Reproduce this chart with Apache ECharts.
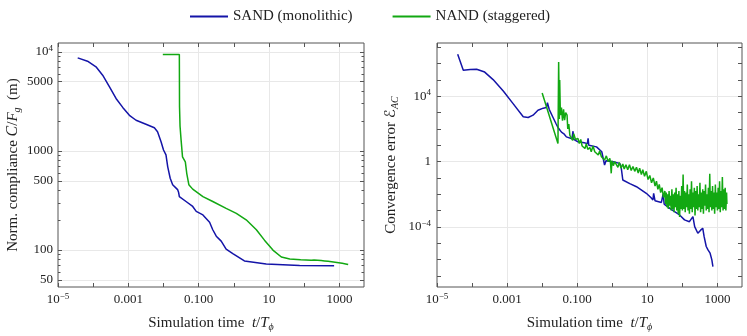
<!DOCTYPE html>
<html>
<head>
<meta charset="utf-8">
<script src="https://cdn.jsdelivr.net/npm/echarts@6/dist/echarts.min.js"></script>
<style>html,body{margin:0;padding:0;background:#fff}#c{width:747px;height:336px}</style>
</head>
<body>
<div id="c"></div>
<script>
// ---- Data (stored as log10 exponents, converted to values below) ----
// Left panel: normalised compliance C/Fg (m) vs simulation time t/Tphi
const sandComplianceLogT = [-4.44,-4.16,-3.92,-3.73,-3.54,-3.35,-3.16,-2.97,-2.78,-2.50,-2.26,-2.17,-2.07,-2.00,-1.93,-1.88,-1.81,-1.74,-1.60,-1.57,-1.55,-1.36,-1.17,-1.07,-0.88,-0.69,-0.60,-0.50,-0.36,-0.22,-0.03,0.30,0.92,1.87,2.85];
const sandComplianceLogC = [3.94,3.906,3.85,3.765,3.65,3.53,3.44,3.36,3.31,3.27,3.235,3.195,3.094,3.01,2.96,2.84,2.725,2.66,2.61,2.58,2.54,2.49,2.44,2.39,2.355,2.28,2.205,2.14,2.09,2.01,1.965,1.89,1.86,1.845,1.842];

const nandComplianceLogT = [-2.02,-1.55,-1.545,-1.53,-1.50,-1.46,-1.38,-1.34,-1.28,-1.17,-0.88,-0.60,-0.22,0.07,0.35,0.64,0.87,1.11,1.35,1.59,1.90,2.20,2.28,2.33,2.38,2.43,2.48,2.53,2.58,2.63,2.68,2.73,2.78,2.83,2.88,2.93,2.98,3.03,3.08,3.13,3.18,3.22,3.25];
const nandComplianceLogC = [3.974,3.974,3.45,3.25,3.11,2.94,2.89,2.775,2.66,2.615,2.54,2.49,2.42,2.37,2.305,2.205,2.10,2.0,1.93,1.91,1.903,1.898,1.900,1.892,1.897,1.888,1.894,1.884,1.890,1.880,1.886,1.876,1.882,1.872,1.877,1.866,1.872,1.860,1.866,1.853,1.860,1.848,1.855];

// Right panel: convergence error E_AC vs simulation time
const sandErrorLogT = [-4.41,-4.25,-4.05,-3.87,-3.64,-3.40,-3.11,-2.83,-2.54,-2.40,-2.26,-2.12,-1.97,-1.88,-1.85,-1.80,-1.69,-1.60,-1.55,-1.45,-1.38,-1.31,-1.15,-1.12,-1.10,-0.98,-0.80,-0.71,-0.69,-0.67,-0.45,-0.30,-0.26,-0.22,-0.18,0.02,0.21,0.25,0.30,0.50,0.69,0.97,1.10,1.16,1.18,1.22,1.40,1.45,1.48,1.64,1.80,1.92,2.06,2.20,2.30,2.35,2.44,2.52,2.58,2.62,2.68,2.73,2.79,2.84,2.87];
const sandErrorLogE = [6.57,5.59,5.63,5.65,5.48,5.02,4.32,3.55,2.74,2.70,2.84,3.14,3.27,3.31,3.60,3.20,2.70,2.30,2.09,1.80,1.70,1.51,1.40,1.86,1.36,1.21,1.15,1.10,1.42,1.00,0.90,0.60,0.50,-0.21,0.05,-0.01,-0.11,-0.30,-1.13,-1.35,-1.54,-1.94,-2.20,-2.35,-1.95,-2.40,-2.50,-2.00,-2.60,-2.86,-3.10,-3.27,-3.57,-3.68,-3.37,-3.98,-4.39,-4.20,-4.08,-4.60,-5.20,-5.41,-5.61,-6.02,-6.43];

const nandErrorLogT = [-2.00,-1.55,-1.53,-1.51,-1.50,-1.48,-1.45,-1.42,-1.39,-1.36,-1.33,-1.29,-1.27,-1.24,-1.21,-1.17,-1.13,-1.10,-1.05,-0.98,-0.94,-0.90,-0.86,-0.83,-0.78,-0.74,-0.70,-0.64,-0.60,-0.55,-0.50,-0.45,-0.40,-0.36,-0.31,-0.26,-0.22,-0.17,-0.12,-0.07,-0.05,-0.03,-0.01,0.03,0.07,0.12,0.16,0.20,0.25,0.30,0.34,0.39,0.44,0.49,0.54,0.59,0.64,0.69,0.74,0.78,0.83,0.87,0.92,0.97,1.02,1.07,1.12,1.17,1.22,1.26,1.30,1.34,1.38,1.42,1.46,1.50,
  1.52,1.54,1.56,1.58,1.60,1.62,1.64,1.66,1.68,1.70,1.72,1.74,1.76,1.78,1.80,1.82,1.84,1.86,1.88,1.90,1.92,1.94,1.96,1.98,2.00,2.02,2.04,2.06,2.08,2.10,2.12,2.14,2.16,2.18,2.20,2.22,2.24,2.26,2.28,2.30,2.32,2.34,2.36,2.38,2.40,2.42,2.44,2.46,2.48,2.50,2.52,2.54,2.56,2.58,2.60,2.62,2.64,2.66,2.68,2.70,2.72,2.74,2.76,2.78,2.80,2.82,2.84,2.86,2.88,2.90,2.92,2.94,2.96,2.98,3.00,3.02,3.04,3.06,3.08,3.10,3.12,3.14,3.16,3.18,3.20,3.22,3.24,3.26,3.27];
const nandErrorLogE = [4.20,1.11,6.10,2.60,5.00,2.84,3.30,2.50,3.20,2.53,3.00,2.84,2.00,2.30,1.60,1.62,1.30,1.70,1.35,1.42,1.10,1.35,0.95,1.00,0.80,1.10,0.75,0.86,0.60,0.95,0.60,0.70,0.40,0.65,0.30,0.40,0.10,0.35,0.00,0.19,-0.10,-0.72,0.05,-0.25,0.00,-0.11,-0.35,-0.05,-0.40,-0.15,-0.45,-0.20,-0.50,-0.20,-0.55,-0.30,-0.60,-0.35,-0.70,-0.40,-0.80,-0.50,-0.90,-0.60,-1.10,-0.85,-1.30,-1.00,-1.50,-1.20,-1.70,-1.40,-1.90,-1.60,-2.20,-1.80,
  -2.6,-1.9,-2.8,-2.0,-2.9,-1.8,-2.7,-2.1,-3.0,-1.7,-2.9,-2.0,-3.1,-1.9,-2.8,-1.6,-3.0,-2.0,-3.2,-1.8,-3.4,-2.1,-2.9,-1.5,-3.0,-0.8,-2.9,-1.8,-3.1,-1.9,-2.8,-1.4,-3.0,-2.0,-3.2,-1.7,-2.9,-1.2,-3.1,-1.9,-2.8,-1.6,-3.3,-1.8,-2.9,-1.5,-3.0,-2.0,-2.8,-1.3,-3.1,-1.9,-2.9,-1.7,-3.2,-1.8,-2.7,-1.4,-3.0,-2.0,-2.9,-1.6,-3.1,-0.75,-2.8,-1.8,-3.0,-1.5,-2.9,-1.9,-3.2,-1.4,-2.8,-1.9,-3.0,-1.6,-2.9,-1.2,-3.1,-1.8,-2.8,-0.95,-3.0,-1.7,-2.9,-1.6,-3.0,-1.9,-2.6];

// Tick values
const xTickExps = [-5,-4,-3,-2,-1,0,1,2,3];
const xLabelExps = [-5,-3,-1,1,3];
const leftYMajor = [50,100,500,1000,5000,10000];
const leftYMinor = [60,70,80,90,200,300,400,600,700,800,900,2000,3000,4000,6000,7000,8000,9000];
const rightYTickExps = [-7,-6,-5,-4,-3,-2,-1,0,1,2,3,4,5,6,7];
const rightYLabelExps = [-4,0,4];

const seriesNames = ['SAND (monolithic)', 'NAND (staggered)'];
const colors = ['#1414a8', '#12a812'];

// ---- build ----
const pw = v => Math.pow(10, v);
const pairs = (lx, ly) => lx.map((v, i) => [pw(v), pw(ly[i])]);

const FONT = 'Liberation Serif';
const FRAME = '#555';
const GRIDC = '#e8e8e8';

const X_MIN = pw(-5), X_MAX = pw(3.7);
const LY_MIN = pw(1.627), LY_MAX = pw(4.09);
const RY_MIN = pw(-7.68), RY_MAX = pw(7.26);

function xLabelFmt(v) {
  const e = Math.round(Math.log10(v));
  if (e === -5) return '10{sup|\u22125}';
  if (e === -3) return '0.001';
  if (e === -1) return '0.100';
  if (e === 1) return '10';
  if (e === 3) return '1000';
  return '';
}
function rYLabelFmt(v) {
  const e = Math.round(Math.log10(v));
  if (e === 0) return '1';
  return '10{sup|' + (e < 0 ? '\u2212' + (-e) : e) + '}';
}
function lYLabelFmt(v) {
  const r = Math.round(v);
  if (r === 10000) return '10{sup|4}';
  return String(r);
}
const labelRich = {
  sup: { fontSize: 9, fontFamily: FONT, color: '#222', verticalAlign: 'top', lineHeight: 8 }
};
const labelBase = { fontSize: 13, fontFamily: FONT, color: '#222', lineHeight: 16, rich: labelRich };

function baseAxis(extra) {
  return Object.assign({
    type: 'log', logBase: 10,
    axisLine: { show: false, onZero: false },
    axisTick: { show: false },
    axisLabel: { show: false },
    splitLine: { show: false },
    minorTick: { show: false },
    minorSplitLine: { show: false }
  }, extra);
}
function tickAxis(pos, gridIndex, min, max, values, len) {
  return baseAxis({
    gridIndex, position: pos, min, max,
    axisTick: { show: true, inside: true, length: len, customValues: values, lineStyle: { color: FRAME, width: 1 } }
  });
}
function gridAxis(pos, gridIndex, min, max, values) {
  return baseAxis({
    gridIndex, position: pos, min, max,
    axisTick: { show: false, customValues: values },
    splitLine: { show: true, lineStyle: { color: GRIDC, width: 1 } }
  });
}

const xTickVals = xTickExps.map(pw);
const xLabelVals = xLabelExps.map(pw);
const xGridVals = xLabelExps.filter(e => e > -5).map(pw);

const subRich = {
  it: { fontStyle: 'italic', fontSize: 15, fontFamily: FONT, color: '#222', lineHeight: 18 },
  cal: { fontStyle: 'italic', fontSize: 16, fontFamily: FONT, color: '#222', lineHeight: 18 },
  scr: { fontSize: 15, fontFamily: 'DejaVu Sans', color: '#222', lineHeight: 18 },
  sub: { fontStyle: 'italic', fontSize: 10, fontFamily: FONT, color: '#222', verticalAlign: 'bottom', lineHeight: 10 }
};
const nameStyle = { fontSize: 15, fontFamily: FONT, color: '#222', lineHeight: 18, rich: subRich };

const xAxes = [];
const yAxes = [];
[0, 1].forEach(g => {
  xAxes.push(baseAxis({
    gridIndex: g, position: 'bottom', min: X_MIN, max: X_MAX,
    axisTick: { show: true, inside: true, length: 4, customValues: xTickVals, lineStyle: { color: FRAME } },
    axisLabel: { show: true, customValues: xLabelVals, formatter: xLabelFmt, margin: 5, ...labelBase },
    name: 'Simulation time  {it|t}/{it|T}{sub|\u03d5}',
    nameLocation: 'middle', nameGap: 27, nameTextStyle: nameStyle
  }));
  xAxes.push(gridAxis('bottom', g, X_MIN, X_MAX, xGridVals));
  xAxes.push(tickAxis('top', g, X_MIN, X_MAX, xTickVals, 4));
});

// Left panel y axes
yAxes.push(baseAxis({
  gridIndex: 0, position: 'left', min: LY_MIN, max: LY_MAX,
  axisTick: { show: true, inside: true, length: 4, customValues: leftYMajor, lineStyle: { color: FRAME } },
  axisLabel: { show: true, customValues: leftYMajor, formatter: lYLabelFmt, margin: 5, ...labelBase },
  name: 'Norm. compliance {cal|C}/{it|F}{sub|g}  (m)',
  nameLocation: 'middle', nameGap: 36, nameTextStyle: nameStyle
})); // 0
yAxes.push(gridAxis('left', 0, LY_MIN, LY_MAX, leftYMajor));
yAxes.push(tickAxis('left', 0, LY_MIN, LY_MAX, leftYMinor, 2.5));
yAxes.push(tickAxis('right', 0, LY_MIN, LY_MAX, leftYMajor, 4));
yAxes.push(tickAxis('right', 0, LY_MIN, LY_MAX, leftYMinor, 2.5));
// Right panel y axes
const rTickVals = rightYTickExps.map(pw);
const rLabelVals = rightYLabelExps.map(pw);
yAxes.push(baseAxis({
  gridIndex: 1, position: 'left', min: RY_MIN, max: RY_MAX,
  axisTick: { show: true, inside: true, length: 4, customValues: rTickVals, lineStyle: { color: FRAME } },
  axisLabel: { show: true, customValues: rLabelVals, formatter: rYLabelFmt, margin: 6, ...labelBase },
  name: 'Convergence error {scr|\u2130}{sub|AC}',
  nameLocation: 'middle', nameGap: 37, nameTextStyle: nameStyle
})); // 5
yAxes.push(gridAxis('left', 1, RY_MIN, RY_MAX, rLabelVals));
yAxes.push(tickAxis('right', 1, RY_MIN, RY_MAX, rTickVals, 4));

function lineSeries(name, idx, xi, yi, data) {
  return {
    name, type: 'line', xAxisIndex: xi, yAxisIndex: yi, data,
    showSymbol: false, symbol: 'none', animation: false, clip: true,
    lineStyle: { color: colors[idx], width: 1.5 }, itemStyle: { color: colors[idx] },
    z: 3
  };
}

const option = {
  backgroundColor: '#fff',
  animation: false,
  textStyle: { fontFamily: FONT },
  legend: {
    top: 4, left: 185, itemGap: 40, itemWidth: 38, itemHeight: 2, icon: 'rect',
    textStyle: { fontSize: 15, fontFamily: FONT, color: '#222' },
    data: seriesNames
  },
  grid: [
    { left: 58, top: 43, width: 306, height: 244, show: true, borderColor: FRAME, borderWidth: 1, backgroundColor: 'transparent', outerBoundsMode: 'none', containLabel: false },
    { left: 437, top: 43, width: 305, height: 244, show: true, borderColor: FRAME, borderWidth: 1, backgroundColor: 'transparent', outerBoundsMode: 'none', containLabel: false }
  ],
  xAxis: xAxes,
  yAxis: yAxes,
  series: [
    lineSeries(seriesNames[0], 0, 0, 0, pairs(sandComplianceLogT, sandComplianceLogC)),
    lineSeries(seriesNames[1], 1, 0, 0, pairs(nandComplianceLogT, nandComplianceLogC)),
    lineSeries(seriesNames[0], 0, 3, 5, pairs(sandErrorLogT, sandErrorLogE)),
    lineSeries(seriesNames[1], 1, 3, 5, pairs(nandErrorLogT, nandErrorLogE))
  ]
};
const chart = echarts.init(document.getElementById('c'), null, { renderer: 'canvas' });
chart.setOption(option);
</script>
</body>
</html>
